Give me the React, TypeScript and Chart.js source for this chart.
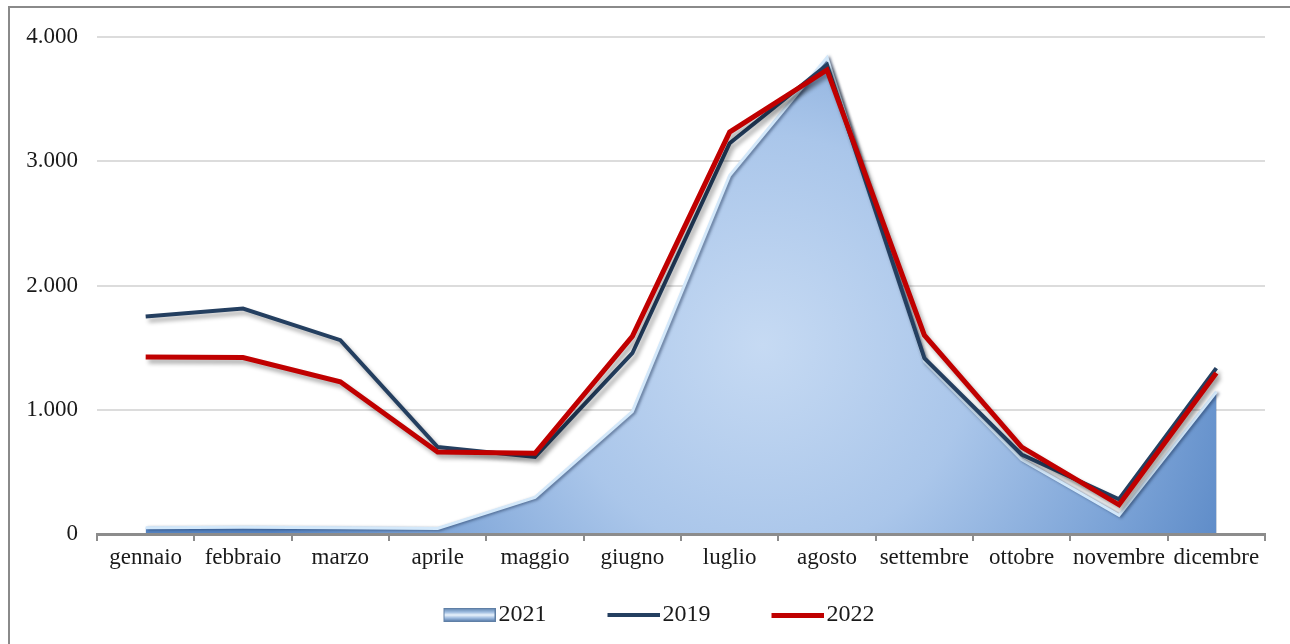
import React, { useEffect, useRef } from 'react';
import { Chart, registerables } from 'chart.js';

const months = ['gennaio', 'febbraio', 'marzo', 'aprile', 'maggio', 'giugno', 'luglio', 'agosto', 'settembre', 'ottobre', 'novembre', 'dicembre'];
const values2021 = [50, 55, 50, 45, 295, 985, 2885, 3835, 1390, 600, 150, 1145];
const values2019 = [1750, 1815, 1560, 700, 620, 1455, 3145, 3775, 1415, 640, 280, 1335];
const values2022 = [1425, 1420, 1225, 660, 650, 1590, 3235, 3735, 1600, 700, 235, 1295];
const seriesNames = ['2021', '2019', '2022'];
const yMin = 0;
const yMax = 4000;
const yStep = 1000;

const FONT = "'Liberation Serif', 'Times New Roman', serif";

const shadowPlugin = {
  id: 'dsShadow',
  beforeDatasetDraw(chart: any, args: any) {
    const ctx = chart.ctx;
    ctx.save();
    if (args.index === 0) {
      ctx.shadowColor = 'rgba(20,40,75,0.55)';
      ctx.shadowBlur = 3;
      ctx.shadowOffsetX = 2;
      ctx.shadowOffsetY = 1;
    } else {
      ctx.shadowColor = 'rgba(0,0,0,0.32)';
      ctx.shadowBlur = 4;
      ctx.shadowOffsetX = 3;
      ctx.shadowOffsetY = 4;
    }
  },
  afterDatasetDraw(chart: any) {
    chart.ctx.restore();
  },
};

// register shadow first so it runs before the Filler plugin
Chart.register(shadowPlugin as any);
Chart.register(...registerables);

function fmt(v: number): string {
  return String(v).replace(/\B(?=(\d{3})+(?!\d))/g, '.');
}

function makeLegendImage(kind: 'area' | 'navy' | 'red', boxW: number): HTMLCanvasElement {
  const W = boxW + 18;
  const c = document.createElement('canvas');
  const vis = 52;
  if (kind === 'area') {
    const h = 14;
    c.width = W;
    c.height = h;
    const g = c.getContext('2d')!;
    const x0 = W - vis;
    const lg = g.createLinearGradient(0, 0, 0, h);
    lg.addColorStop(0, '#5b7faa');
    lg.addColorStop(0.3, '#9fbde0');
    lg.addColorStop(0.5, '#eaf3fc');
    lg.addColorStop(0.72, '#9dbadf');
    lg.addColorStop(1, '#4a6f9e');
    g.fillStyle = lg;
    g.fillRect(x0, 0, vis, h);
    g.strokeStyle = '#5f7fa5';
    g.lineWidth = 1;
    g.strokeRect(x0 + 0.5, 0.5, vis - 1, h - 1);
  } else {
    const h = kind === 'navy' ? 4 : 5;
    c.width = W;
    c.height = h;
    const g = c.getContext('2d')!;
    g.fillStyle = kind === 'navy' ? '#243f60' : '#c00000';
    g.fillRect(W - vis, 0, vis, h);
  }
  return c;
}

export default function App() {
  const ref = useRef<HTMLCanvasElement | null>(null);

  useEffect(() => {
    if (!ref.current) return;
    const boxW = 96;
    const imgs = [makeLegendImage('area', boxW), makeLegendImage('navy', boxW), makeLegendImage('red', boxW)];

    const areaFill = (c: any) => {
      const chart = c.chart;
      const a = chart.chartArea;
      if (!a) return '#9bbbe4';
      const w = a.right - a.left;
      const h = a.bottom - a.top;
      const cx = a.left + 0.57 * w;
      const cy = a.top + 0.62 * h;
      const g = chart.ctx.createRadialGradient(cx, cy, 0, cx, cy, 0.45 * w);
      g.addColorStop(0, '#c6daf3');
      g.addColorStop(0.4, '#aac6ea');
      g.addColorStop(0.75, '#7aa2d6');
      g.addColorStop(1, '#5685c4');
      return g;
    };

    const chart = new Chart(ref.current, {
      type: 'line',
      data: {
        labels: months,
        datasets: [
          {
            label: seriesNames[0],
            data: values2021,
            fill: 'origin',
            backgroundColor: areaFill,
            borderColor: '#d3e8fa',
            borderWidth: 3,
            pointRadius: 0,
            tension: 0,
            order: 3,
          },
          {
            label: seriesNames[1],
            data: values2019,
            fill: false,
            borderColor: '#243f60',
            backgroundColor: '#243f60',
            borderWidth: 4,
            pointRadius: 0,
            tension: 0,
            order: 2,
          },
          {
            label: seriesNames[2],
            data: values2022,
            fill: false,
            borderColor: '#c00000',
            backgroundColor: '#c00000',
            borderWidth: 5,
            pointRadius: 0,
            tension: 0,
            order: 1,
          },
        ],
      },
      options: {
        responsive: false,
        devicePixelRatio: 1,
        animation: false,
        layout: { padding: { left: 0, right: 25, top: 37, bottom: 7 } },
        scales: {
          x: {
            type: 'category',
            offset: true,
            grid: {
              offset: true,
              drawOnChartArea: false,
              drawTicks: true,
              tickLength: 7,
              color: '#8c8c8c',
              lineWidth: 2,
            },
            border: { display: true, color: '#8c8c8c', width: 3, z: 1 },
            ticks: {
              autoSkip: false,
              maxRotation: 0,
              padding: 3,
              color: '#1a1a1a',
              font: { family: FONT, size: 23 },
            },
            afterFit: (s: any) => {
              s.height = 61;
            },
          },
          y: {
            min: yMin,
            max: yMax,
            ticks: {
              stepSize: yStep,
              padding: 19,
              color: '#1a1a1a',
              font: { family: FONT, size: 23 },
              callback: (v: any) => fmt(Number(v)),
            },
            grid: {
              drawTicks: false,
              lineWidth: 2,
              color: (c: any) => (c.tick && c.tick.value === 0 ? 'rgba(0,0,0,0)' : '#dcdcdc'),
            },
            border: { display: false },
            afterFit: (s: any) => {
              s.width = 97;
            },
          },
        },
        plugins: {
          tooltip: { enabled: false },
          legend: {
            position: 'bottom',
            labels: {
              usePointStyle: true,
              pointStyleWidth: boxW,
              padding: 8,
              color: '#1a1a1a',
              font: { family: FONT, size: 24 },
              generateLabels: (ch: any) => {
                const items = Chart.defaults.plugins.legend.labels.generateLabels(ch);
                items.sort((p: any, q: any) => p.datasetIndex - q.datasetIndex);
                return items.map((it: any) => ({ ...it, pointStyle: imgs[it.datasetIndex], lineWidth: 0 }));
              },
            },
          },
        },
      } as any,
    });
    return () => chart.destroy();
  }, []);

  return (
    <div style={{ position: 'fixed', left: 0, top: 0, width: 1290, height: 644, background: '#ffffff', overflow: 'hidden' }}>
      <div
        style={{
          position: 'absolute',
          left: 8,
          top: 6,
          width: 1290,
          height: 660,
          borderTop: '2px solid #8a8a8a',
          borderLeft: '2px solid #8a8a8a',
        }}
      />
      <canvas ref={ref} width={1290} height={644} style={{ position: 'absolute', left: 0, top: 0, display: 'block' }} />
    </div>
  );
}
